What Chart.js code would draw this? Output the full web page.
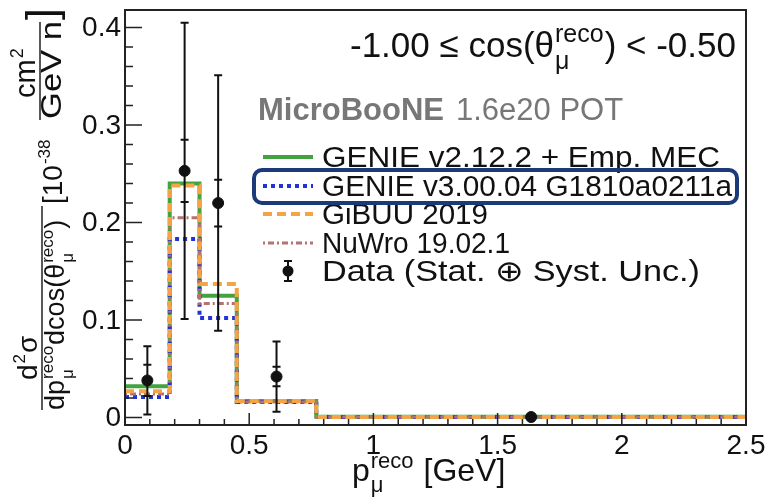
<!DOCTYPE html>
<html>
<head>
<meta charset="utf-8">
<script src="https://cdn.jsdelivr.net/npm/chart.js@4"></script>
<style>
  html, body { margin: 0; padding: 0; background: #fff; }
  #wrap { width: 767px; height: 502px; }
</style>
</head>
<body>
<div id="wrap"><canvas id="xsec"></canvas></div>
<script>
// bin edges in reconstructed muon momentum [GeV]
const edges = [0, 0.18, 0.30, 0.45, 0.77, 2.5];

// model predictions per bin (10^-38 cm2 / GeV / nucleon)
const genieV2 = [0.032, 0.240, 0.125, 0.017, 0.0008];
const genieV3 = [0.021, 0.183, 0.102, 0.016, 0.0005];
const gibuu   = [0.027, 0.238, 0.137, 0.017, 0.0006];
const nuwro   = [0.024, 0.205, 0.117, 0.016, 0.0006];

// data points with total and stat-only errors
const dataX    = [0.09, 0.24, 0.375, 0.61, 1.635];
const dataY    = [0.038, 0.253, 0.220, 0.042, 0.0005];
const errTotal = [0.035, 0.152, 0.131, 0.036, 0.0004];
const errStat  = [0.016, 0.032, 0.024, 0.010, 0.0002];

const xTicks = [0, 0.5, 1, 1.5, 2, 2.5];
const xTickLabels = ['0', '0.5', '1', '1.5', '2', '2.5'];
const yTicks = [0, 0.1, 0.2, 0.3, 0.4];
const yTickLabels = ['0', '0.1', '0.2', '0.3', '0.4'];

const seriesNames = ['GENIE v2.12.2 + Emp. MEC', 'GENIE v3.00.04 G1810a0211a', 'GiBUU 2019', 'NuWro 19.02.1'];
const dataName = 'Data (Stat. \u2295 Syst. Unc.)';

const FONT = '"Liberation Sans", Arial, Helvetica, sans-serif';
const styles = [
  { color: '#43a33f', dash: [], width: 4 },
  { color: '#2233d6', dash: [4, 4], width: 4 },
  { color: '#f4a347', dash: [9, 5], width: 4 },
  { color: '#b57272', dash: [2, 3, 6, 3], width: 3 }
];
// widths the legend texts take in the original (the font there runs a bit wider)
const legendWidths = [398, 410, 166, 188, 378];

function steps(vals) {
  return edges.map((e, i) => ({ x: e, y: vals[Math.min(i, vals.length - 1)] }));
}

// text squeezed/stretched along its run to a given width
function fitText(ctx, text, x, y, width, rotated) {
  ctx.save();
  ctx.translate(x, y);
  if (rotated) ctx.rotate(-Math.PI / 2);
  const w = ctx.measureText(text).width;
  ctx.scale(width / w, 1);
  ctx.fillText(text, 0, 0);
  ctx.restore();
}

// text with stacked super/subscripts, optionally rotated to run upward
function rich(ctx, x, y, parts, size, rotated, scr) {
  const k = scr || 0.62;
  ctx.save();
  ctx.translate(x, y);
  if (rotated) ctx.rotate(-Math.PI / 2);
  ctx.textBaseline = 'alphabetic';
  ctx.textAlign = 'left';
  let cx = 0;
  parts.forEach(p => {
    if (typeof p === 'string') {
      ctx.font = size + 'px ' + FONT;
      ctx.fillText(p, cx, 0);
      cx += ctx.measureText(p).width;
    } else {
      const s = Math.round(size * k);
      ctx.font = s + 'px ' + FONT;
      let w = 0;
      if (p.sup) { ctx.fillText(p.sup, cx + 1, -size * 0.42); w = Math.max(w, ctx.measureText(p.sup).width + 2); }
      if (p.sub) { ctx.fillText(p.sub, cx + 1, size * 0.33); w = Math.max(w, ctx.measureText(p.sub).width + 2); }
      cx += w;
    }
  });
  ctx.restore();
  return cx;
}

const decor = {
  id: 'decor',
  afterDatasetsDraw(chart) {
    const ctx = chart.ctx;
    const xs = chart.scales.x, ys = chart.scales.y;
    const a = chart.chartArea;

    // error bars for the data
    ctx.save();
    ctx.strokeStyle = '#111';
    ctx.lineWidth = 2;
    dataX.forEach((xv, i) => {
      const px = xs.getPixelForValue(xv);
      const top = ys.getPixelForValue(dataY[i] + errTotal[i]);
      const bot = ys.getPixelForValue(dataY[i] - errTotal[i]);
      ctx.beginPath();
      ctx.moveTo(px, top); ctx.lineTo(px, bot);
      ctx.moveTo(px - 4, top); ctx.lineTo(px + 4, top);
      ctx.moveTo(px - 4, bot); ctx.lineTo(px + 4, bot);
      [dataY[i] + errStat[i], dataY[i] - errStat[i]].forEach(v => {
        const py = ys.getPixelForValue(v);
        ctx.moveTo(px - 4, py); ctx.lineTo(px + 4, py);
      });
      ctx.stroke();
    });
    ctx.restore();

    // frame
    ctx.save();
    ctx.strokeStyle = '#222';
    ctx.lineWidth = 2;
    ctx.strokeRect(a.left, a.top, a.right - a.left, a.bottom - a.top);

    // inward ticks
    ctx.lineWidth = 1.5;
    ctx.beginPath();
    for (let v = 0; v <= 2.5001; v += 0.1) {
      const px = xs.getPixelForValue(v);
      const major = Math.abs(v / 0.5 - Math.round(v / 0.5)) < 1e-6;
      ctx.moveTo(px, a.bottom); ctx.lineTo(px, a.bottom - (major ? 12 : 6));
    }
    for (let v = 0; v <= 0.4001; v += 0.02) {
      const py = ys.getPixelForValue(v);
      const major = Math.abs(v / 0.1 - Math.round(v / 0.1)) < 1e-6;
      ctx.moveTo(a.left, py); ctx.lineTo(a.left + (major ? 17 : 8), py);
    }
    ctx.stroke();

    // tick labels
    ctx.fillStyle = '#111';
    ctx.font = '28px ' + FONT;
    ctx.textAlign = 'center';
    ctx.textBaseline = 'alphabetic';
    xTicks.forEach((v, i) => ctx.fillText(xTickLabels[i], xs.getPixelForValue(v), a.bottom + 29));
    ctx.textAlign = 'right';
    ctx.textBaseline = 'middle';
    yTicks.forEach((v, i) => ctx.fillText(yTickLabels[i], a.left - 4, ys.getPixelForValue(v) + 1));

    // axis titles
    ctx.fillStyle = '#111';
    ctx.textAlign = 'left';
    ctx.textBaseline = 'alphabetic';
    rich(ctx, 352, 481, ['p', { sup: 'reco', sub: '\u03bc' }, ' [GeV]'], 32, false, 0.7);

    rich(ctx, 37, 380, ['d', { sup: '2' }, '\u03c3'], 28, true);
    ctx.lineWidth = 1.5;
    ctx.beginPath(); ctx.moveTo(42, 410); ctx.lineTo(42, 206); ctx.stroke();
    rich(ctx, 64, 410, ['dp', { sup: 'reco', sub: '\u03bc' }, 'dcos(\u03b8', { sup: 'reco', sub: '\u03bc' }, ')'], 27, true);
    rich(ctx, 62, 204, ['[10', { sup: '-38' }], 28, true);
    rich(ctx, 35, 98, ['cm', { sup: '2' }], 29, true);
    ctx.beginPath(); ctx.moveTo(40, 120); ctx.lineTo(40, 22); ctx.stroke();
    ctx.font = '29px ' + FONT;
    fitText(ctx, 'GeV n', 61, 119, 98, true);
    rich(ctx, 56, 20, [']'], 42, true);

    // bin label
    rich(ctx, 350, 57, ['-1.00 \u2264 cos(\u03b8', { sup: 'reco', sub: '\u03bc' }, ') < -0.50'], 35, false, 0.7);

    // experiment label
    ctx.fillStyle = '#777';
    ctx.font = 'bold 31px ' + FONT;
    ctx.fillText('MicroBooNE', 258, 120);
    const w = ctx.measureText('MicroBooNE').width;
    ctx.font = '31px ' + FONT;
    ctx.fillText('1.6e20 POT', 258 + w + 12, 120);

    // legend
    const rows = [157, 186, 214, 243, 271];
    ctx.font = '29px ' + FONT;
    ctx.fillStyle = '#111';
    seriesNames.forEach((name, i) => {
      const st = styles[i];
      ctx.save();
      ctx.strokeStyle = st.color;
      ctx.lineWidth = st.width;
      ctx.setLineDash(st.dash);
      ctx.beginPath(); ctx.moveTo(263, rows[i]); ctx.lineTo(313, rows[i]); ctx.stroke();
      ctx.restore();
      fitText(ctx, name, 322, rows[i] + 10, legendWidths[i], false);
    });
    fitText(ctx, dataName, 322, rows[4] + 10, legendWidths[4], false);
    ctx.strokeStyle = '#111';
    ctx.lineWidth = 2;
    ctx.beginPath();
    ctx.moveTo(288, rows[4] - 10); ctx.lineTo(288, rows[4] + 10);
    ctx.moveTo(284, rows[4] - 10); ctx.lineTo(292, rows[4] - 10);
    ctx.moveTo(284, rows[4] + 10); ctx.lineTo(292, rows[4] + 10);
    ctx.stroke();
    ctx.beginPath(); ctx.arc(288, rows[4], 5.5, 0, Math.PI * 2); ctx.fillStyle = '#111'; ctx.fill();

    // highlight box round the GENIE v3 entry
    ctx.strokeStyle = '#1d3a78';
    ctx.lineWidth = 4;
    ctx.beginPath();
    ctx.roundRect(254, 170, 483, 33, 8);
    ctx.stroke();
    ctx.restore();
  }
};

const histSets = [genieV2, genieV3, gibuu, nuwro].map((vals, i) => ({
  type: 'line',
  label: seriesNames[i],
  data: steps(vals),
  stepped: 'before',
  borderColor: styles[i].color,
  borderWidth: styles[i].width,
  borderDash: styles[i].dash,
  pointRadius: 0,
  fill: false,
  order: [4, 3, 1, 2][i]
}));

new Chart(document.getElementById('xsec'), {
  type: 'line',
  data: {
    datasets: [
      ...histSets,
      {
        type: 'scatter',
        label: dataName,
        data: dataX.map((x, i) => ({ x, y: dataY[i] })),
        backgroundColor: '#111',
        borderColor: '#111',
        pointRadius: 5.5,
        showLine: false,
        order: 0
      }
    ]
  },
  options: {
    responsive: true,
    maintainAspectRatio: false,
    animation: false,
    layout: { padding: { left: 125, right: 21, top: 10, bottom: 77 } },
    plugins: { legend: { display: false }, tooltip: { enabled: false } },
    scales: {
      x: { type: 'linear', min: 0, max: 2.5, display: false },
      y: { type: 'linear', min: -0.0077, max: 0.418, display: false }
    }
  },
  plugins: [decor]
});
</script>
</body>
</html>
